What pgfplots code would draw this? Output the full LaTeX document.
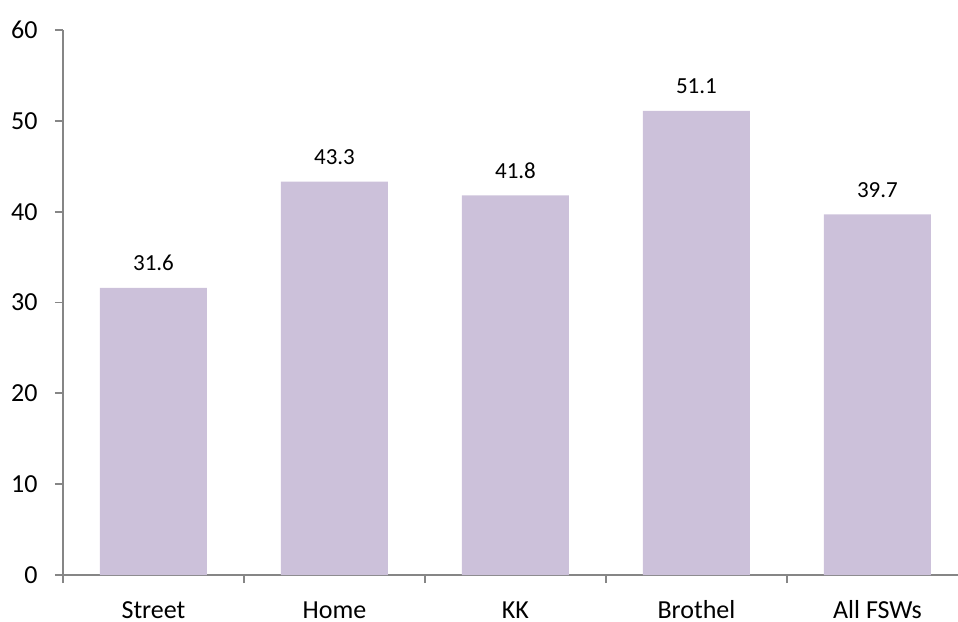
\documentclass[border=0pt]{standalone}
\usepackage{pgfplots}
\pgfplotsset{compat=1.18}
\usepackage{fontspec}
\setmainfont{Carlito}
\definecolor{barfill}{HTML}{CCC1DA}
\definecolor{axgray}{HTML}{868686}
\begin{document}
\begin{tikzpicture}
\begin{axis}[
  scale only axis,
  width=447.5pt, height=272.5pt,
  at={(0,0)}, anchor=south west,
  ybar, bar width=53.5pt,
  xmin=-0.5, xmax=4.445,
  ymin=0, ymax=60,
  axis x line=bottom, axis y line=left,
  axis line style={-, draw=axgray, line width=0.9pt},
  xtick={0,1,2,3,4},
  xticklabels={Street, Home, KK, Brothel, All FSWs},
  minor xtick={-0.5,0.5,1.5,2.5,3.5},
  major x tick style={draw=none},
  minor x tick style={draw=axgray, line width=0.9pt},
  ytick={0,10,...,60},
  y tick style={draw=axgray, line width=0.9pt},
  tick align=outside,
  major tick length=4pt, minor tick length=4pt,
  /pgf/number format/assume math mode=true,
  ticklabel style={font=\fontsize{13}{13}\selectfont},
  xticklabel style={anchor=base, yshift=-17.5pt, inner sep=0pt},
  yticklabel style={anchor=east, inner sep=0pt, xshift=-8.5pt},
  nodes near coords,
  nodes near coords style={font=\fontsize{11.5}{11.5}\selectfont, anchor=base, inner sep=0pt, yshift=8.5pt, /pgf/number format/fixed, /pgf/number format/precision=1, /pgf/number format/fixed zerofill},
  clip=false,
]
\addplot[fill=barfill, draw=none] coordinates {(0,31.6) (1,43.3) (2,41.8) (3,51.1) (4,39.7)};
\end{axis}
\pgfresetboundingbox
\path[use as bounding box] (-31.5pt,-23pt) rectangle (447.5pt,287.5pt);
\end{tikzpicture}
\end{document}
